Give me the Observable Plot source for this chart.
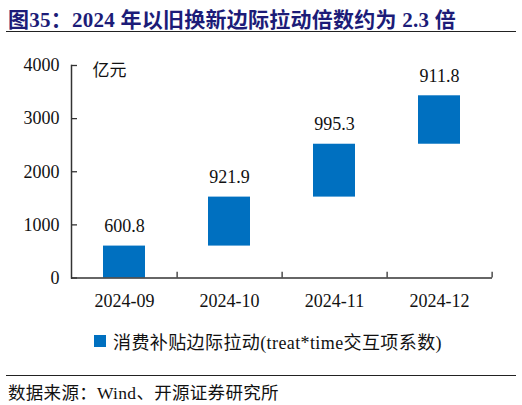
<!DOCTYPE html>
<html>
<head>
<meta charset="utf-8">
<script src="https://cdn.jsdelivr.net/npm/d3@7"></script>
<script src="https://cdn.jsdelivr.net/npm/@observablehq/plot@0.6"></script>
<style>
  body { margin: 0; background: #fff; }
  #wrap { position: relative; width: 522px; height: 405px; font-family: "Liberation Serif", "Noto Sans CJK SC", serif; color: #111; }
  #title { position: absolute; left: 8px; top: 3px; font-size: 21px; letter-spacing: 0.25px; font-weight: bold; color: #1c1c78; white-space: nowrap; }
  .hr { position: absolute; left: 6px; width: 510px; height: 0; border-top: 1.3px solid #222; }
  #chart { position: absolute; left: 0; top: 40px; }
  #legend { position: absolute; left: 94px; top: 328px; font-size: 18px; letter-spacing: 0.4px; white-space: nowrap; display: flex; align-items: center; }
  #legend .sw { width: 12px; height: 12px; background: #0070c0; margin-right: 7px; }
  #source { position: absolute; left: 8px; top: 379px; font-size: 17.5px; letter-spacing: 0.3px; white-space: nowrap; }
</style>
</head>
<body>
<div id="wrap">
  <div id="title">图35：2024 年以旧换新边际拉动倍数约为 2.3 倍</div>
  <div class="hr" style="top:31px"></div>
  <div id="chart"></div>
  <div id="legend"><span class="sw"></span>消费补贴边际拉动(treat*time交互项系数)</div>
  <div class="hr" style="top:375px"></div>
  <div id="source">数据来源：Wind、开源证券研究所</div>
</div>
<script>
// 月份与边际拉动（亿元）
const months = ["2024-09", "2024-10", "2024-11", "2024-12"];
const increments = [600.8, 921.9, 995.3, 911.8];
const yTicks = [0, 1000, 2000, 3000, 4000];

// waterfall: each bar starts where the previous one ended
const ends = d3.cumsum(increments);
const data = months.map((m, i) => ({
  month: m,
  value: increments[i],
  start: ends[i] - increments[i],
  end: ends[i]
}));

const W = 522, H = 270, ml = 71, mr = 30;
const step = (W - ml - mr) / months.length;
const axisColor = "#333";

const chart = Plot.plot({
  width: W,
  height: H,
  marginLeft: ml,
  marginRight: mr,
  marginTop: 25,
  marginBottom: 32.5,
  style: { fontFamily: "Liberation Serif, serif", fontSize: "18px", color: "#111", background: "transparent" },
  x: { domain: months, paddingInner: 0.6, paddingOuter: 0.3 },
  y: { domain: [0, 4000] },
  marks: [
    Plot.barY(data, { x: "month", y1: "start", y2: "end", fill: "#0070c0" }),
    Plot.text(data, {
      x: "month", y: "end", text: d => d.value.toFixed(1),
      dy: -20, lineAnchor: "middle", fontSize: 18, fill: "#111"
    }),
    // y axis: labels + inward ticks
    Plot.axisY({ ticks: yTicks, tickSize: 0, tickPadding: 12, tickFormat: d => String(d), label: null, fontSize: 18 }),
    Plot.axisY({ ticks: yTicks, tickSize: 6, dx: 6, text: null, label: null, stroke: axisColor, strokeWidth: 1.3 }),
    // x axis labels
    Plot.axisX({ tickSize: 0, tickPadding: 16, label: null, fontSize: 18 }),
    // upward ticks at band boundaries
    Plot.ruleX(months, { y1: 0, y2: 110, dx: step / 2, stroke: axisColor, strokeWidth: 1.3 }),
    Plot.frame({ anchor: "left", stroke: axisColor, strokeWidth: 1.5 }),
    Plot.ruleY([0], { stroke: axisColor, strokeWidth: 1.5 }),
    Plot.text(["亿元"], {
      frameAnchor: "top-left", textAnchor: "start", lineAnchor: "middle",
      dx: 21, dy: 5, fontSize: 17, fontFamily: "Noto Sans CJK SC", fill: "#111"
    })
  ]
});

d3.select("#chart").append(() => chart);
</script>
</body>
</html>
